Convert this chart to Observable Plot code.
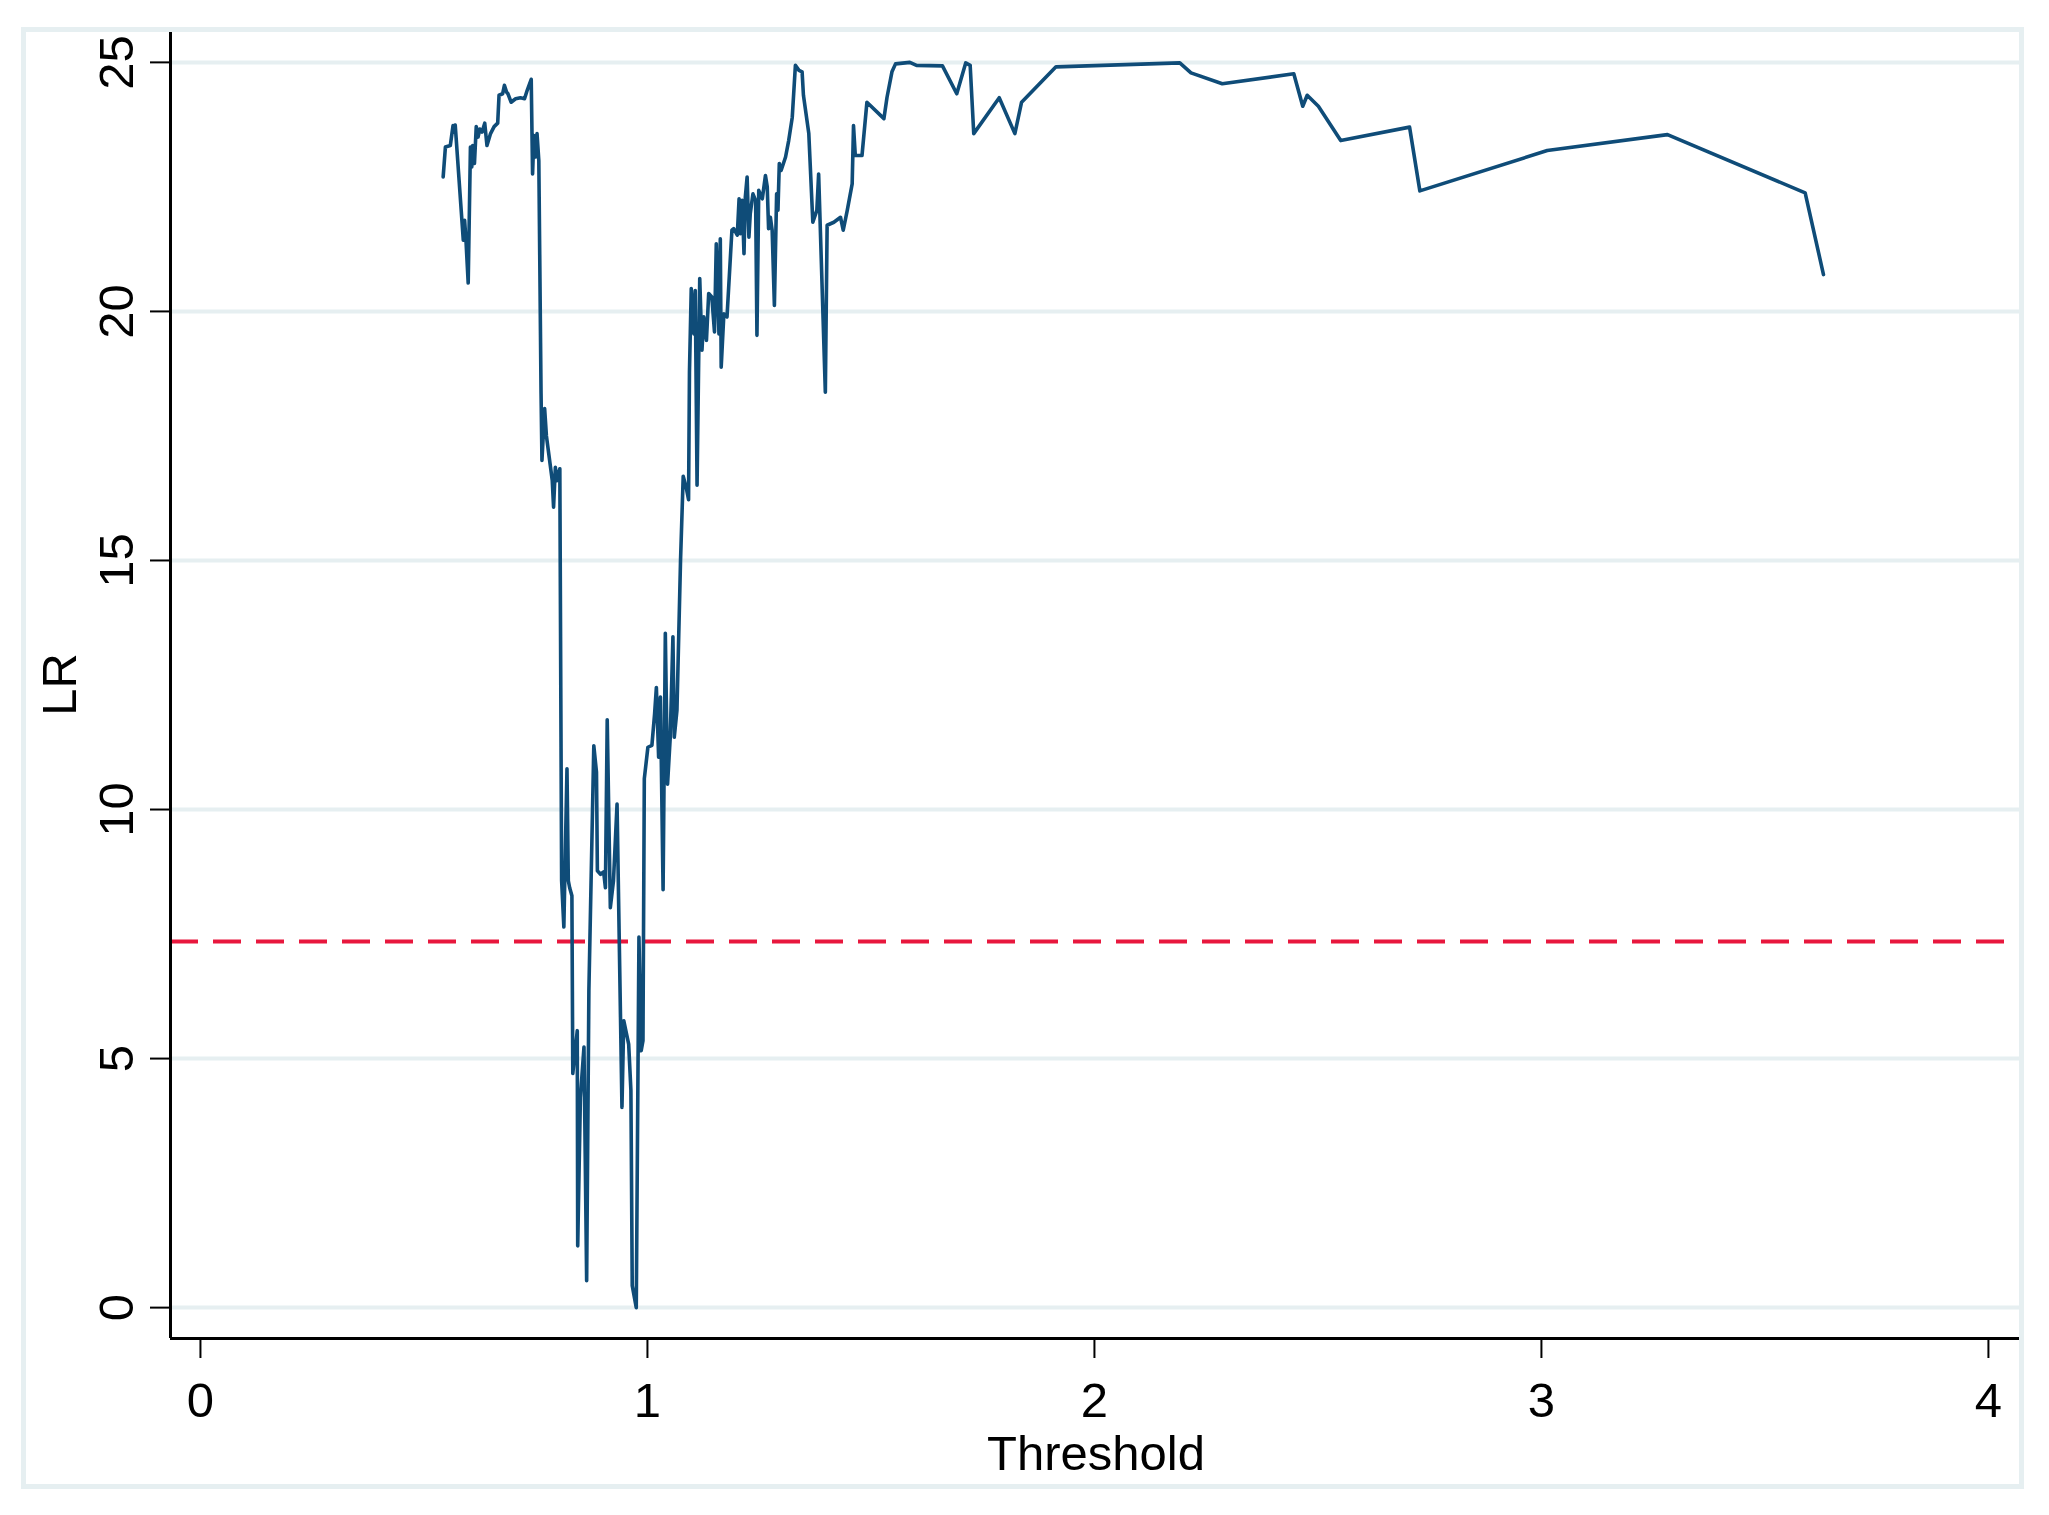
<!DOCTYPE html>
<html>
<head>
<meta charset="utf-8">
<script src="https://cdn.jsdelivr.net/npm/d3@7"></script>
<script src="https://cdn.jsdelivr.net/npm/@observablehq/plot@0.6"></script>
<style>
  html, body { margin: 0; padding: 0; background: #ffffff; }
  #wrap { position: relative; width: 2049px; height: 1515px; }
  #border { position: absolute; left: 21px; top: 27px; width: 2003px; height: 1462px;
            border: 5px solid #e6eff1; box-sizing: border-box; pointer-events: none; }
</style>
</head>
<body>
<div id="wrap"><div id="chart"></div><div id="border"></div></div>
<script>
const thresholds = [0.543,0.548,0.559,0.565,0.567,0.570,0.588,0.591,0.594,0.599,0.604,0.607,0.609,0.613,0.617,0.621,0.625,0.630,0.636,0.641,0.649,0.657,0.665,0.668,0.676,0.680,0.685,0.688,0.695,0.705,0.716,0.725,0.731,0.740,0.743,0.746,0.750,0.753,0.757,0.762,0.764,0.770,0.774,0.787,0.790,0.794,0.797,0.804,0.808,0.813,0.820,0.823,0.826,0.831,0.833,0.843,0.844,0.850,0.858,0.864,0.869,0.880,0.886,0.888,0.895,0.902,0.906,0.910,0.917,0.924,0.932,0.943,0.947,0.958,0.963,0.966,0.975,0.981,0.986,0.990,0.993,1.001,1.010,1.016,1.020,1.025,1.029,1.035,1.040,1.045,1.051,1.057,1.060,1.066,1.074,1.080,1.087,1.092,1.094,1.098,1.104,1.107,1.111,1.117,1.122,1.126,1.132,1.137,1.144,1.150,1.154,1.160,1.163,1.165,1.171,1.178,1.189,1.193,1.201,1.205,1.208,1.212,1.216,1.219,1.223,1.227,1.230,1.236,1.242,1.245,1.249,1.257,1.264,1.268,1.271,1.275,1.279,1.284,1.289,1.292,1.295,1.299,1.309,1.316,1.324,1.331,1.339,1.346,1.349,1.361,1.370,1.379,1.383,1.398,1.402,1.417,1.432,1.438,1.447,1.458,1.461,1.465,1.480,1.491,1.529,1.536,1.547,1.555,1.587,1.602,1.660,1.692,1.712,1.722,1.730,1.787,1.822,1.837,1.914,2.191,2.216,2.286,2.446,2.466,2.476,2.501,2.551,2.705,2.728,3.013,3.282,3.590,3.631];
const lr = [22.70,23.30,23.33,23.73,23.60,23.74,21.43,21.83,21.43,20.57,23.30,22.90,23.33,22.97,23.71,23.50,23.66,23.60,23.78,23.33,23.57,23.71,23.78,24.34,24.37,24.54,24.40,24.37,24.20,24.27,24.29,24.27,24.44,24.66,22.76,23.53,23.10,23.57,23.03,18.35,17.01,18.05,17.50,16.61,16.07,16.87,16.60,16.84,8.57,7.64,10.82,8.57,8.43,8.27,4.70,5.56,1.24,4.22,5.23,0.54,6.37,11.28,10.75,8.77,8.70,8.75,8.43,11.80,8.03,8.57,10.11,4.02,5.76,5.29,4.36,0.44,0.00,7.44,5.16,5.36,10.62,11.25,11.29,11.92,12.45,11.05,12.26,8.39,13.54,10.51,11.45,13.47,11.45,11.99,14.99,16.69,16.45,16.22,18.78,20.46,19.55,20.42,16.51,20.66,19.22,19.89,19.42,20.36,20.29,19.59,21.36,19.55,21.46,18.88,19.95,19.89,21.63,21.66,21.53,22.26,21.56,22.23,21.16,22.30,22.70,21.49,21.96,22.36,22.23,19.52,22.43,22.26,22.73,22.50,21.66,21.89,21.63,20.12,22.36,22.03,22.97,22.83,23.10,23.43,23.90,24.94,24.84,24.81,24.34,23.57,21.79,22.03,22.76,18.38,21.73,21.79,21.89,21.63,22.03,22.56,23.73,23.13,23.13,24.20,23.87,24.30,24.81,24.97,25.00,24.94,24.93,24.37,24.99,24.94,23.57,24.29,23.57,24.20,24.91,24.99,24.79,24.57,24.77,24.12,24.34,24.12,23.43,23.70,22.42,23.23,23.55,22.38,20.74];
const criticalValue = [7.35];
const xTicks = [0, 1, 2, 3, 4];
const yTicks = [0, 5, 10, 15, 20, 25];
const xLabel = "Threshold";
const yLabel = "LR";

const data = thresholds.map((t, i) => ({threshold: t, lr: lr[i]}));
const xDomain = [-0.067, 4.074];
const yDomain = [-0.62, 25.64];

const chart = Plot.plot({
  width: 2049,
  height: 1515,
  marginTop: 30,
  marginRight: 28,
  marginBottom: 177,
  marginLeft: 170,
  style: {fontFamily: '"Liberation Sans", Arial, Helvetica, sans-serif', fontSize: "49px", color: "black", background: "transparent", overflow: "visible"},
  x: {domain: xDomain},
  y: {domain: yDomain},
  marks: [
    Plot.gridY(yTicks, {stroke: "#e6eff1", strokeOpacity: 1, strokeWidth: 4}),
    Plot.ruleY(criticalValue, {stroke: "#e8173d", strokeWidth: 4, strokeDasharray: "28,15"}),
    Plot.line(data, {x: "threshold", y: "lr", stroke: "#0f4c78", strokeWidth: 3.6}),
    Plot.axisY(yTicks, {tickSize: 20, tickRotate: -90, tickPadding: 18, label: null, strokeWidth: 2, fontSize: 49, tickFormat: d => String(d)}),
    Plot.axisX(xTicks, {tickSize: 20, tickPadding: 24, label: null, strokeWidth: 2, fontSize: 49, tickFormat: d => String(d)}),
    Plot.ruleX([xDomain[0]], {stroke: "black", strokeWidth: 3}),
    Plot.ruleY([yDomain[0]], {stroke: "black", strokeWidth: 3}),
    Plot.text([xLabel], {frameAnchor: "bottom", dy: 131, lineAnchor: "bottom", fontSize: 49}),
    Plot.text([yLabel], {frameAnchor: "left", dx: -95, rotate: -90, lineAnchor: "bottom", textAnchor: "middle", fontSize: 49})
  ]
});
document.getElementById("chart").appendChild(chart);
</script>
</body>
</html>
